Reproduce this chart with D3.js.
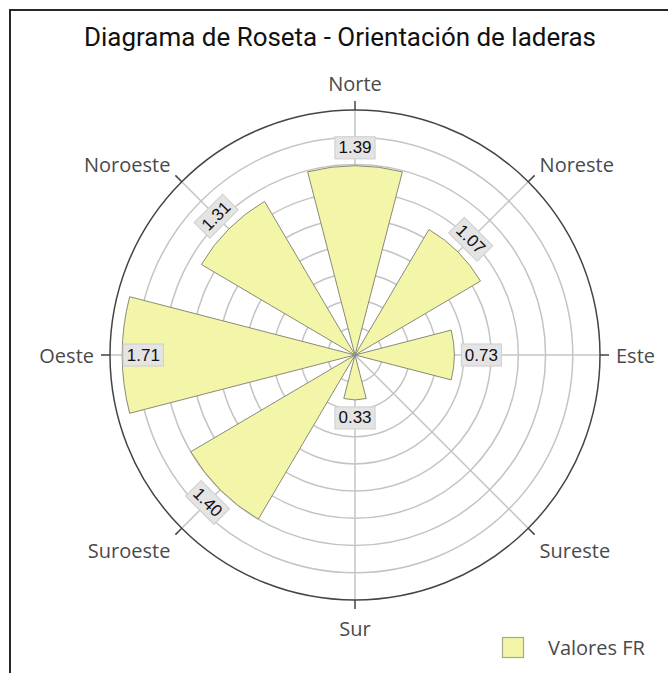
<!DOCTYPE html>
<html>
<head>
<meta charset="utf-8">
<script src="https://cdn.jsdelivr.net/npm/d3@7"></script>
<style>
  html, body { margin: 0; padding: 0; background: #fff; }
  svg { display: block; }
</style>
</head>
<body>
<svg id="chart" width="668" height="673"></svg>
<script>
// ---- data ----
const title = "Diagrama de Roseta - Orientación de laderas";
const categories = ["Norte", "Noreste", "Este", "Sureste", "Sur", "Suroeste", "Oeste", "Noroeste"];
const angles = [0, 45, 90, 135, 180, 225, 270, 315];
const values = [1.39, 1.07, 0.73, 0, 0.33, 1.40, 1.71, 1.31];
const gridValues = [0.2, 0.4, 0.6, 0.8, 1.0, 1.2, 1.4, 1.6];
const radialMax = 1.8;
const seriesName = "Valores FR";

// ---- layout ----
const svg = d3.select("#chart");
const cx = 355, cy = 355, R = 245;
const barWidthDeg = 29;
const fill = "#f3f5a8";

// frame
svg.append("rect").attr("x", 10).attr("y", 10).attr("width", 720).attr("height", 720)
  .attr("fill", "none").attr("stroke", "#111").attr("stroke-width", 1.8);

// title
svg.append("text").attr("x", 84).attr("y", 46)
  .attr("font-family", "Roboto, 'Liberation Sans', sans-serif").attr("font-size", 25)
  .attr("textLength", 512).attr("lengthAdjust", "spacingAndGlyphs")
  .attr("fill", "#111").text(title);

const r = d3.scaleLinear().domain([0, radialMax]).range([0, R]);
const rad = d => d * Math.PI / 180;

const g = svg.append("g").attr("transform", `translate(${cx},${cy})`);

// grid circles
g.selectAll("circle.grid").data(gridValues).join("circle")
  .attr("class", "grid").attr("r", d => r(d))
  .attr("fill", "none").attr("stroke", "#c4c4c4").attr("stroke-width", 1.5);

// spokes
g.selectAll("line.spoke").data(angles).join("line")
  .attr("x1", 0).attr("y1", 0)
  .attr("x2", a => R * Math.sin(rad(a))).attr("y2", a => -R * Math.cos(rad(a)))
  .attr("stroke", "#c4c4c4").attr("stroke-width", 1.5);

// outer circle
g.append("circle").attr("r", R).attr("fill", "none").attr("stroke", "#444").attr("stroke-width", 1.5);

// ticks
const tickLen = 9;
g.selectAll("line.tick").data(angles).join("line")
  .attr("x1", a => R * Math.sin(rad(a))).attr("y1", a => -R * Math.cos(rad(a)))
  .attr("x2", a => (R + tickLen) * Math.sin(rad(a))).attr("y2", a => -(R + tickLen) * Math.cos(rad(a)))
  .attr("stroke", "#444").attr("stroke-width", 1.5);

// bars
const arc = d3.arc();
const barData = values.map((v, i) => ({ v, a: angles[i], name: categories[i] }));
g.selectAll("path.bar").data(barData.filter(d => d.v > 0)).join("path")
  .attr("d", d => arc({
    innerRadius: 0, outerRadius: r(d.v),
    startAngle: rad(d.a - barWidthDeg / 2), endAngle: rad(d.a + barWidthDeg / 2)
  }))
  .attr("fill", fill).attr("stroke", "#8a8a7a").attr("stroke-width", 1);

// axis labels
const labelFont = "'Open Sans', 'DejaVu Sans', sans-serif";
g.selectAll("text.axis").data(angles).join("text")
  .attr("font-family", labelFont).attr("font-size", 20).attr("fill", "#4a4a4a")
  .text((a, i) => categories[i])
  .each(function (a) {
    const t = d3.select(this);
    const s = Math.sin(rad(a)), c = -Math.cos(rad(a));
    const d = R + tickLen;
    let x = d * s, y = d * c, anchor = "middle";
    if (a === 0) { y = -(R + 27); }
    else if (a === 180) { y = R + 28; }
    else if (a === 90) { x = R + 16; anchor = "start"; }
    else if (a === 270) { x = -(R + 16); anchor = "end"; }
    else {
      anchor = s > 0 ? "start" : "end";
      x += s > 0 ? 5 : -5;
      y += c < 0 ? -11 : 16;
    }
    t.attr("x", x).attr("y", y).attr("text-anchor", anchor).attr("dominant-baseline", "central");
  });

// value labels
const vlab = g.selectAll("g.vlab").data(barData.filter(d => d.v > 0)).join("g").attr("class", "vlab");
vlab.each(function (d) {
  const grp = d3.select(this);
  const txt = grp.append("text")
    .attr("font-family", "'Liberation Sans', Arial, sans-serif").attr("font-size", 17)
    .attr("fill", "#111").attr("text-anchor", "middle").attr("dominant-baseline", "central")
    .text(d.v.toFixed(2));
  const w = txt.node().getComputedTextLength() + 7;
  const h = 22;
  let rot = 0;
  if (d.a % 90 !== 0) {
    rot = d.a;
    while (rot > 90) rot -= 180;
  }
  const extent = (d.a % 180 === 90) ? w / 2 : h / 2;
  let rl = r(d.v) + extent + 7;
  if (rl + extent > R) rl = r(d.v) - extent - 1;
  const x = rl * Math.sin(rad(d.a)), y = -rl * Math.cos(rad(d.a));
  grp.attr("transform", `translate(${x},${y}) rotate(${rot})`);
  grp.insert("rect", "text").attr("x", -w / 2).attr("y", -h / 2).attr("width", w).attr("height", h)
    .attr("fill", "#e4e4e4").attr("stroke", "#d2d2d2").attr("stroke-width", 1.2);
});

// legend
svg.append("rect").attr("x", 502.5).attr("y", 637.5).attr("width", 21).attr("height", 20)
  .attr("fill", fill).attr("stroke", "#a8a888").attr("stroke-width", 1.2);
svg.append("text").attr("x", 548).attr("y", 647.5).attr("dominant-baseline", "central")
  .attr("font-family", labelFont).attr("font-size", 20).attr("fill", "#4a4a4a").text(seriesName);
</script>
</body>
</html>
